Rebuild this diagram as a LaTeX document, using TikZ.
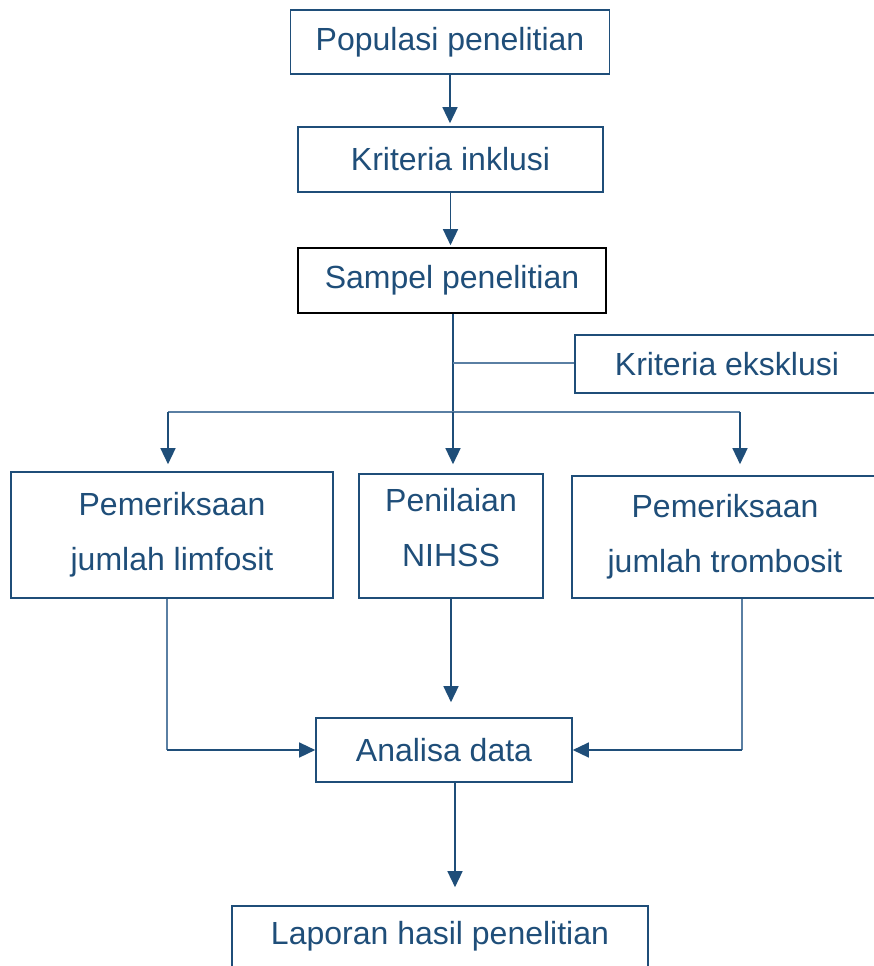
\documentclass[tikz,border=0pt]{standalone}
\usepackage{fontspec}
\setmainfont{Liberation Sans}
\usetikzlibrary{arrows.meta}
\definecolor{dblue}{HTML}{1F4E79}
\definecolor{lblue}{HTML}{5A7FA3}
\tikzset{
  box/.style={draw=dblue, line width=1.6pt, text=dblue, inner sep=0pt, align=center,
    font=\fontsize{32}{55}\selectfont},
  txt/.style={text=dblue, inner sep=0pt, font=\fontsize{32}{38}\selectfont},
  conn/.style={draw=dblue, line width=1.4pt},
  lconn/.style={draw=lblue, line width=1.1pt},
  arr/.style={conn, -{Triangle[width=15pt,length=16pt]}},
}
\begin{document}
\begin{tikzpicture}[x=1pt,y=-1pt]
\useasboundingbox (0,0) rectangle (874,966);
% boxes
\node[box, minimum width=319, minimum height=64] (pop) at (450,42) {Populasi penelitian};
\node[box, minimum width=305, minimum height=65] (ink) at (450.5,159.5) {Kriteria inklusi};
\node[box, draw=black, minimum width=308, minimum height=65] (samp) at (452,280.5) {Sampel penelitian};
\node[box, minimum width=304, minimum height=58] (eks) at (727,364) {Kriteria eksklusi};
\node[box, minimum width=322, minimum height=126] (lim) at (172,535) {Pemeriksaan\\jumlah limfosit};
\node[box, minimum width=184, minimum height=124, text depth=18pt] (nih) at (451,536) {Penilaian\\NIHSS};
\node[box, minimum width=306, minimum height=122] (tro) at (725,537) {Pemeriksaan\\jumlah trombosit};
\node[box, minimum width=256, minimum height=64] (ana) at (444,750) {Analisa data};
\node[box, minimum width=416, minimum height=80] (lap) at (440,946) {};
\node[txt] (laptxt) at (440,936) {Laporan hasil penelitian};
% coordinates
\coordinate (bL) at (168,412);
\coordinate (bM) at (453,412);
\coordinate (bR) at (740,412);
\coordinate (eJ) at (453,363);
\coordinate (cL) at (167,750);
\coordinate (cR) at (742,750);
\coordinate (dB) at (455,782);
% connectors
\draw[arr, shorten >=3pt] (pop.south) -- (pop.south |- ink.north);
\draw[arr, shorten >=2pt] (ink.south) -- (ink.south |- samp.north);
\draw[conn] (samp.south -| bM) -- (bM);
\draw[lconn] (eJ) -- (eJ -| eks.west);
\draw[lconn] (bL) -- (bR);
\draw[arr, shorten >=7pt] (bL) -- (bL |- lim.north);
\draw[arr, shorten >=9pt] (bM) -- (bM |- nih.north);
\draw[arr, shorten >=11pt] (bR) -- (bR |- tro.north);
\draw[lconn] (lim.south -| cL) -- (cL);
\draw[arr] (cL) -- (ana.west);
\draw[lconn] (tro.south -| cR) -- (cR);
\draw[arr] (cR) -- (ana.east);
\draw[arr, shorten >=15pt] (nih.south) -- (nih.south |- ana.north);
\draw[arr, shorten >=18pt] (dB) -- (dB |- lap.north);
\end{tikzpicture}
\end{document}
